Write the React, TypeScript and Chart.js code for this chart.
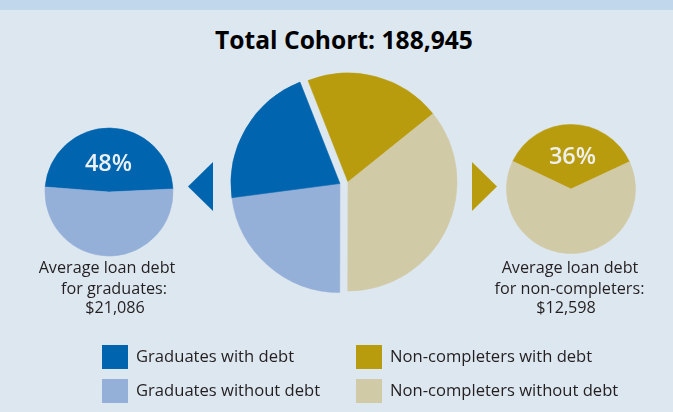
import React, { useEffect, useRef } from "react";
import { Chart, registerables } from "chart.js";

Chart.register(...registerables);

const FONT = '"Open Sans", "Noto Sans", sans-serif';

// ---- data ----
const cohortTitle = "Total Cohort: 188,945";
const mainLabels = [
  "Non-completers with debt",
  "Non-completers without debt",
  "Graduates without debt",
  "Graduates with debt",
];
const mainValues = [20.2, 35.8, 22.9, 21.1];
const gradLabels = ["Graduates with debt", "Graduates without debt"];
const gradValues = [48, 52];
const nonLabels = ["Non-completers with debt", "Non-completers without debt"];
const nonValues = [36, 64];
const gradPctLabel = "48%";
const nonPctLabel = "36%";
const gradDebtLines = ["Average loan debt", "for graduates:", "$21,086"];
const nonDebtLines = ["Average loan debt", "for non-completers:", "$12,598"];
const legendLabels = [
  "Graduates with debt",
  "Non-completers with debt",
  "Graduates without debt",
  "Non-completers without debt",
];

// ---- styles ----
const BLUE = "#0065ae";
const LIGHT_BLUE = "#95b0d8";
const GOLD = "#b99c0e";
const BEIGE = "#d1caa6";
const BG = "#dde7f0";
const BAND = "#c1d7eb";
const TEXT = "#231f20";

const mainColors = [GOLD, BEIGE, LIGHT_BLUE, BLUE];
const legendColors = [BLUE, GOLD, LIGHT_BLUE, BEIGE];

type PieProps = {
  labels: string[];
  values: number[];
  colors: string[];
  rotation: number;
  radius: number;
  size: number;
  left: number;
  top: number;
  shiftGroup?: number[];
  shiftDist?: number;
};

function PieCanvas(p: PieProps) {
  const ref = useRef<HTMLCanvasElement | null>(null);
  useEffect(() => {
    if (!ref.current) return;
    const plugins: any[] = [];
    if (p.shiftGroup && p.shiftGroup.length) {
      plugins.push({
        id: "groupExplode",
        afterDatasetsUpdate(chart: any) {
          const meta = chart.getDatasetMeta(0);
          const arcs = p.shiftGroup!.map((i) => meta.data[i]);
          const start = Math.min(...arcs.map((a: any) => a.startAngle));
          const end = Math.max(...arcs.map((a: any) => a.endAngle));
          const mid = (start + end) / 2;
          const d = p.shiftDist || 0;
          arcs.forEach((a: any) => {
            a.x += Math.cos(mid) * d;
            a.y += Math.sin(mid) * d;
          });
        },
      });
    }
    const chart = new Chart(ref.current, {
      type: "pie",
      data: {
        labels: p.labels,
        datasets: [
          {
            data: p.values,
            backgroundColor: p.colors,
            borderColor: p.colors,
            borderWidth: 0.6,
          },
        ],
      },
      options: {
        responsive: false,
        animation: false,
        events: [],
        rotation: p.rotation,
        radius: p.radius,
        layout: { padding: 0 },
        plugins: {
          legend: { display: false },
          tooltip: { enabled: false },
          title: { display: false },
        },
      } as any,
      plugins,
    });
    return () => chart.destroy();
  }, []);
  return (
    <canvas
      ref={ref}
      width={p.size}
      height={p.size}
      style={{
        position: "absolute",
        left: p.left,
        top: p.top,
        width: p.size,
        height: p.size,
      }}
    />
  );
}

// text positioned by its baseline (Open Sans metrics)
function Txt(props: {
  text: string;
  x: number;
  baseline: number;
  size: number;
  weight?: number;
  color?: string;
  align?: "center" | "left";
}) {
  const S = props.size;
  const L = Math.round(S * 1.2);
  const top = props.baseline - ((L - 1.362 * S) / 2 + 1.069 * S);
  const center = props.align !== "left";
  return (
    <div
      style={{
        position: "absolute",
        top,
        left: center ? props.x - 200 : props.x,
        width: center ? 400 : undefined,
        textAlign: center ? "center" : "left",
        fontFamily: FONT,
        fontSize: S,
        fontWeight: props.weight || 400,
        lineHeight: `${L}px`,
        color: props.color || TEXT,
        whiteSpace: "nowrap",
      }}
    >
      {props.text}
    </div>
  );
}

export default function App() {
  const legendPos = [
    { x: 102, y: 345 },
    { x: 356, y: 345 },
    { x: 102, y: 379 },
    { x: 356, y: 379 },
  ];
  const gradCenters = [107, 114, 115];
  const nonCenters = [570, 569.5, 566];
  const lineBaselines = [274, 294.3, 314];
  return (
    <div
      style={{
        position: "absolute",
        left: 0,
        top: 0,
        width: 673,
        height: 412,
        background: BG,
        overflow: "hidden",
      }}
    >
      <div
        style={{
          position: "absolute",
          left: 0,
          top: 0,
          width: 673,
          height: 10,
          background: BAND,
        }}
      />
      <Txt text={cohortTitle} x={344} baseline={49.5} size={24.6} weight={700} color="#000" />

      <PieCanvas
        labels={mainLabels}
        values={mainValues}
        colors={mainColors}
        rotation={-21.5}
        radius={109}
        size={240}
        left={228}
        top={62}
        shiftGroup={[2, 3]}
        shiftDist={8.2}
      />
      <PieCanvas
        labels={gradLabels}
        values={gradValues}
        colors={[BLUE, LIGHT_BLUE]}
        rotation={-85.5}
        radius={64}
        size={140}
        left={39}
        top={122}
      />
      <PieCanvas
        labels={nonLabels}
        values={nonValues}
        colors={[GOLD, BEIGE]}
        rotation={-64.6}
        radius={64.5}
        size={140}
        left={500.5}
        top={118.5}
      />

      <svg
        width={673}
        height={412}
        style={{ position: "absolute", left: 0, top: 0 }}
      >
        <polygon points="188,186.5 213,162 213,211" fill={BLUE} />
        <polygon points="472,162 472,211 497,186.5" fill={GOLD} />
      </svg>

      <Txt text={gradPctLabel} x={108.5} baseline={171} size={23.5} weight={600} color="#eaf0f5" />
      <Txt text={nonPctLabel} x={572.5} baseline={164} size={23.5} weight={600} color="#eef0ee" />

      {gradDebtLines.map((t, i) => (
        <Txt key={"g" + i} text={t} x={gradCenters[i]} baseline={lineBaselines[i]} size={16.2} />
      ))}
      {nonDebtLines.map((t, i) => (
        <Txt key={"n" + i} text={t} x={nonCenters[i]} baseline={lineBaselines[i]} size={16.2} />
      ))}

      {legendLabels.map((t, i) => (
        <React.Fragment key={"l" + i}>
          <div
            style={{
              position: "absolute",
              left: legendPos[i].x,
              top: legendPos[i].y,
              width: 25.5,
              height: 24,
              background: legendColors[i],
            }}
          />
          <Txt
            text={t}
            x={legendPos[i].x + 34}
            baseline={legendPos[i].y + 17.3}
            size={16.6}
            align="left"
          />
        </React.Fragment>
      ))}
    </div>
  );
}
